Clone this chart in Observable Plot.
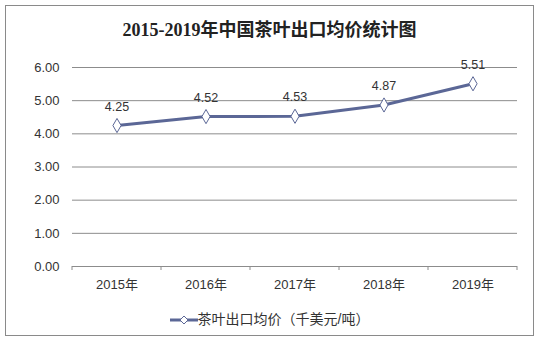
<!DOCTYPE html>
<html><head><meta charset="utf-8">
<script src="https://cdn.jsdelivr.net/npm/d3@7"></script>
<script src="https://cdn.jsdelivr.net/npm/@observablehq/plot@0.6"></script>
<style>
body{margin:0;background:#fff;font-family:"Liberation Sans",Arial,sans-serif;}
#frame{position:absolute;left:5px;top:5px;width:529px;height:331px;border:1px solid #8a8a8a;box-sizing:border-box;}
#title{position:absolute;left:0;top:15px;width:539px;text-align:center;font-family:"Liberation Serif","Noto Sans CJK SC",serif;font-weight:bold;font-size:18px;color:#222;}
#chart{position:absolute;left:0;top:50px;}
#legend{position:absolute;left:0;top:308px;width:539px;text-align:center;font-size:14px;color:#333;font-family:"Liberation Sans","Noto Sans CJK SC",sans-serif;}
#legend svg{vertical-align:middle;}
</style></head>
<body>
<div id="frame"></div>
<div id="title">2015-2019年中国茶叶出口均价统计图</div>
<div id="chart"></div>
<div id="legend"></div>
<script>
const years = ["2015年","2016年","2017年","2018年","2019年"];
const prices = [4.25, 4.52, 4.53, 4.87, 5.51];
const yTicks = [0,1,2,3,4,5,6];
const seriesName = "茶叶出口均价（千美元/吨）";

const color = "#5b6796";
const data = years.map((y,i)=>({year:y, i, x:i+0.5, v:prices[i]}));
const bounds = d3.range(years.length+1);

const plot = Plot.plot({
  width:539, height:246,
  marginLeft:72, marginRight:22, marginTop:17, marginBottom:30,
  x:{type:"linear", domain:[0,years.length], axis:null},
  y:{domain:[0,6], axis:null},
  style:{fontFamily:"Liberation Sans, Arial, sans-serif", fontSize:"13px", color:"#333"},
  marks:[
    Plot.ruleY(yTicks, {stroke:"#8c8c8c", strokeWidth:1}),
    Plot.text(yTicks, {x:0, y:d=>d, text:d=>d.toFixed(2), textAnchor:"end", dx:-13, fontSize:13, fill:"#333"}),
    Plot.text(data, {x:"x", y:0, text:"year", dy:18, fontSize:13, fill:"#333", fontFamily:"Liberation Sans, Noto Sans CJK SC, sans-serif"}),
    Plot.line(data, {x:"x", y:"v", stroke:color, strokeWidth:3}),
    Plot.dot(data, {x:"x", y:"v", symbol:"diamond", r:4.3, fill:"white", stroke:color, strokeWidth:1}),
    Plot.text(data, {x:"x", y:"v", text:d=>d.v.toFixed(2), dy:-19, fontSize:12.5, fill:"#333"})
  ]
});
document.getElementById("chart").appendChild(plot);
const sx = plot.scale("x"), sy = plot.scale("y");
d3.select(plot).append("g").selectAll("line").data(bounds).join("line")
  .attr("x1",d=>sx.apply(d)).attr("x2",d=>sx.apply(d))
  .attr("y1",sy.apply(0)).attr("y2",sy.apply(0)+4)
  .attr("stroke","#8c8c8c");

const lg = document.getElementById("legend");
lg.innerHTML = `<svg width="28" height="12"><line x1="0" x2="28" y1="6" y2="6" stroke="${color}" stroke-width="3"/><path d="M14,2 L18,6 L14,10 L10,6 Z" fill="white" stroke="${color}"/></svg><span>${seriesName}</span>`;
</script>
</body></html>
